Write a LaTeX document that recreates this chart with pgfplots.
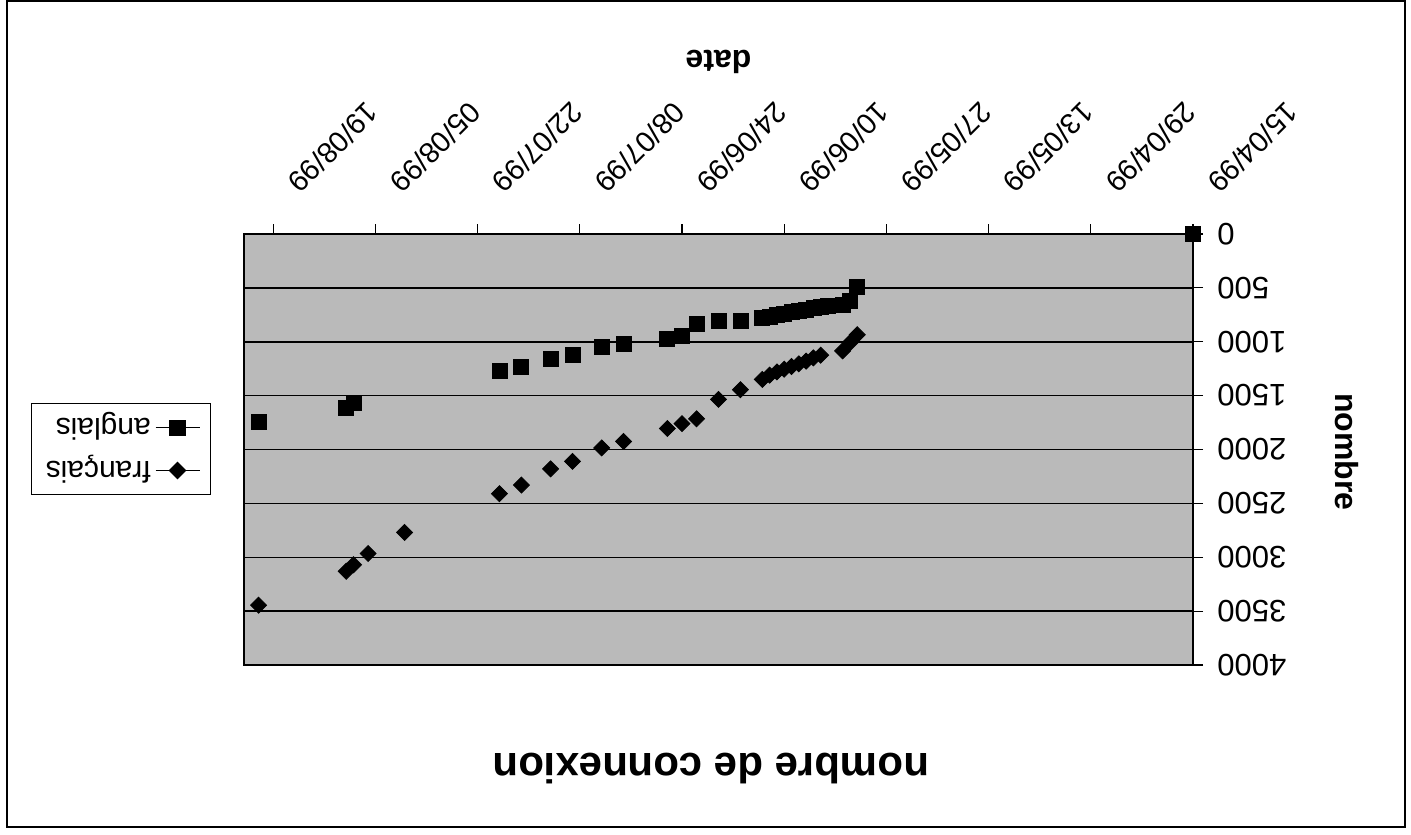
\documentclass[border=0pt]{standalone}
\usepackage{fontspec}
\setmainfont{Liberation Sans}
\usepackage{pgfplots}
\pgfplotsset{compat=1.18}

\begin{document}
\begin{tikzpicture}
\useasboundingbox (0pt,0pt) rectangle (705.5pt,417pt);
\draw[line width=0.9pt] (3.5pt,3.5pt) rectangle (702.5pt,416.5pt);
\begin{axis}[
  at={(359.25pt,192.25pt)}, anchor=center,
  scale only axis, width=474.5pt, height=215.5pt,
  x dir=reverse, y dir=reverse,
  xmin=0, xmax=130, ymin=0, ymax=4000,
  xtick={0,14,28,42,56,70,84,98,112,126},
  xticklabels={15/04/99,29/04/99,13/05/99,27/05/99,10/06/99,24/06/99,08/07/99,22/07/99,05/08/99,19/08/99},
  ytick={0,500,...,4000},
  tick pos=right, tick align=outside, major tick length=5pt,
  tick style={black, line width=0.6pt},
  ymajorgrids, grid style={black, line width=0.75pt},
  axis line style={black, line width=0.8pt},
  axis background/.style={fill=black!27},
  /pgf/number format/assume math mode=true,
  /pgf/number format/1000 sep={},
  xticklabel style={font=\fontsize{14.5}{16}\selectfont, xshift=10pt, yshift=18pt, rotate=225, anchor=east, inner sep=0pt},
  yticklabel style={font=\fontsize{15.5}{17}\selectfont, xshift=7pt, rotate=180, anchor=east, inner sep=0pt},
  xlabel={date},
  every axis x label/.style={at={(axis description cs:0.5,1.4)}, anchor=center, rotate=180, font=\bfseries\fontsize{16}{18}\selectfont},
  ylabel={nombre},
  every axis y label/.style={at={(axis description cs:1.162,0.494)}, anchor=center, rotate=270, font=\bfseries\fontsize{16}{18}\selectfont},
  title={nombre de connexion},
  every axis title/.style={at={(axis description cs:0.492,-0.241)}, anchor=center, rotate=180, font=\bfseries\fontsize{21}{23}\selectfont},
  legend style={at={(axis description cs:-0.1296,0.501)}, anchor=center, draw=black, line width=0.6pt, fill=white, font=\fontsize{15}{17}\selectfont, nodes={rotate=180}, row sep=5pt, inner xsep=5pt, inner ysep=4pt},
  reverse legend, legend plot pos=right, legend cell align=left,
  legend image code/.code={
    \draw[black, line width=0.7pt] (0pt,0pt) -- (22pt,0pt);
    \draw[#1, mark repeat=2, mark phase=2] plot coordinates {(0pt,0pt) (11pt,0pt) (22pt,0pt)};
  },
]
\addplot[only marks, mark=square*, mark size=2.83pt, mark options={rotate=45, fill=black, draw=black}] coordinates {
(0,0) (46,935) (47,1010) (48,1085)
(51,1125) (52,1150) (53,1180) (54,1205) (55,1230) (56,1255) (57,1280) (58,1310) (59,1350)
(62,1445) (65,1535) (68,1715) (70,1760) (72,1805) (78,1925) (81,1985) (85,2110) (88,2180)
(92,2330) (95,2410) (108,2770) (113,2965) (115,3070) (116,3130) (128,3445)
};
\addlegendentry{français}
\addplot[only marks, mark=square*, mark size=3.75pt, mark options={fill=black, draw=black}] coordinates {
(0,0) (46,490) (47,625) (48,660)
(50,670) (51,680) (52,690) (53,705) (54,715) (55,725) (56,740) (57,755) (58,765) (59,780)
(62,805) (65,805) (68,830) (70,950) (72,970) (78,1020) (81,1050) (85,1125) (88,1160)
(92,1230) (95,1275) (115,1570) (116,1610) (128,1740)
};
\addlegendentry{anglais}
\end{axis}
\end{tikzpicture}
\end{document}
